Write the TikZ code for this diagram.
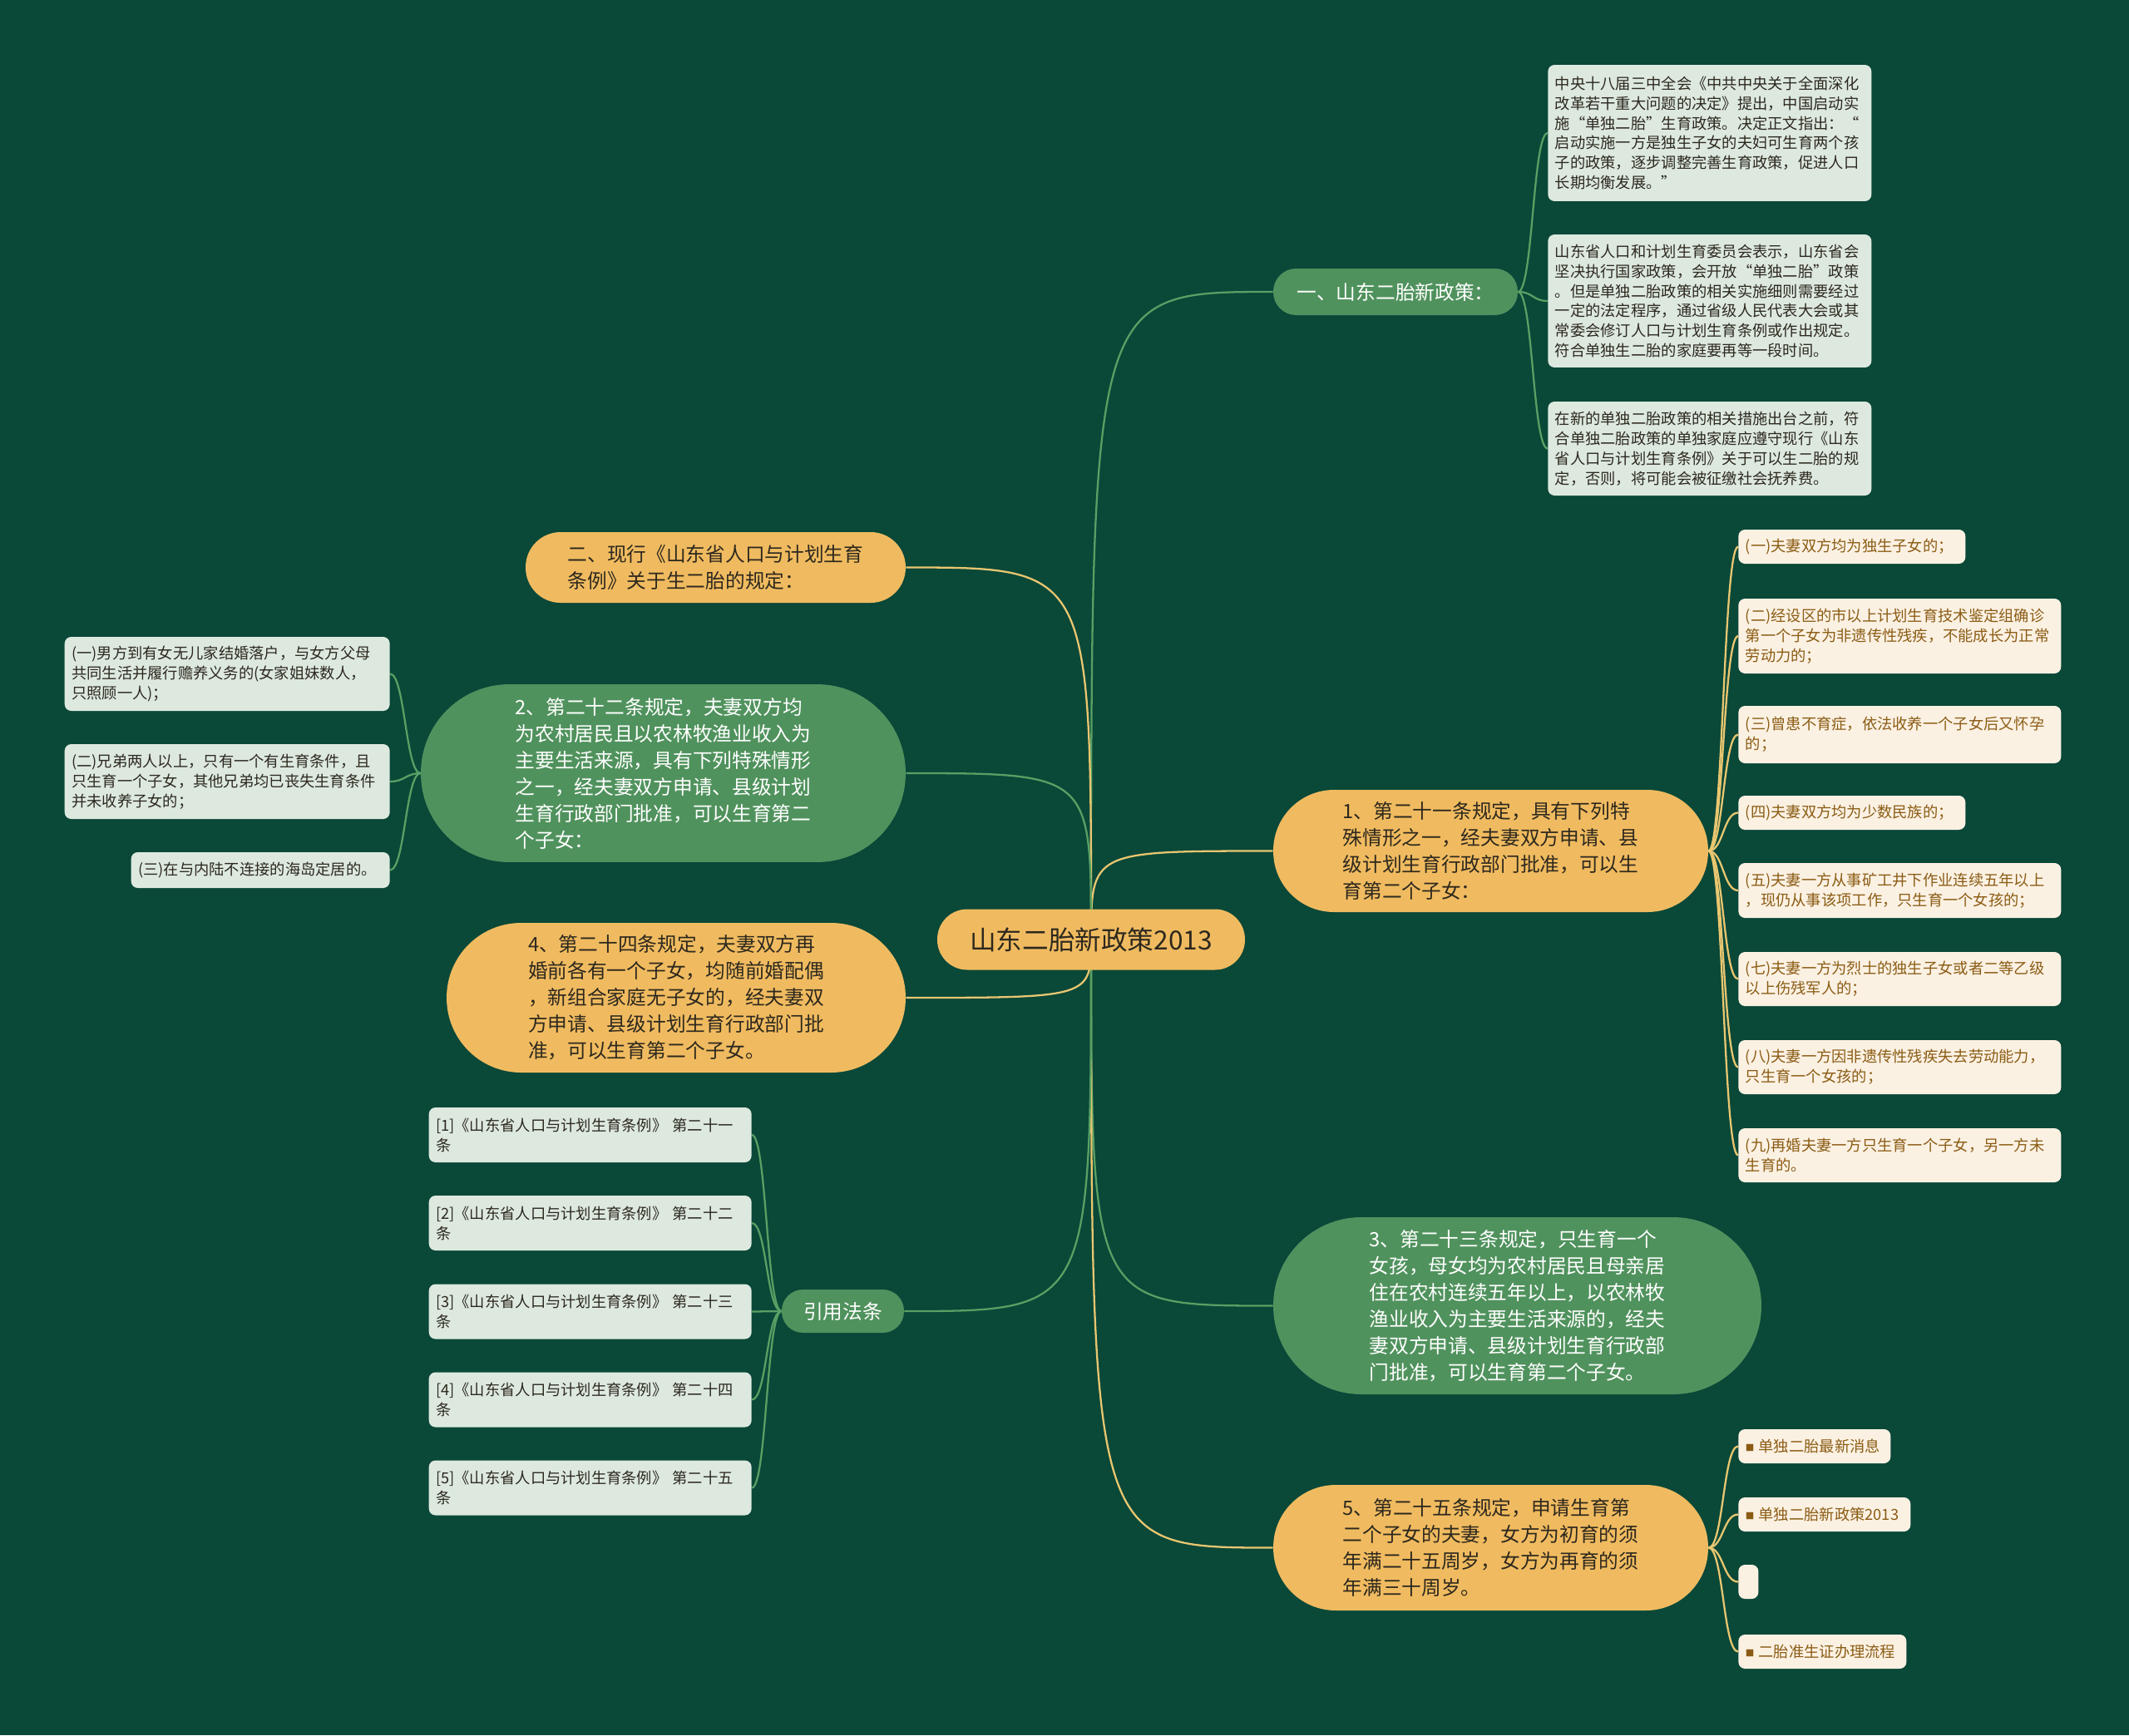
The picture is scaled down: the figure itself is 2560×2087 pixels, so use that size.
\documentclass[tikz,border=0pt]{standalone}
\usepackage{fontspec}
\setmainfont{Noto Sans CJK SC}
\usepackage{tikz}
\usepackage{xcolor}
\usetikzlibrary{backgrounds}
\definecolor{bgdeep}{RGB}{10, 72, 56}
\definecolor{gold}{RGB}{240, 187, 96}
\definecolor{leaf}{RGB}{80, 146, 93}
\definecolor{mint}{RGB}{221, 233, 223}
\definecolor{cream}{RGB}{251, 241, 227}
\definecolor{brown}{RGB}{139, 92, 20}
\definecolor{ink}{RGB}{45, 40, 30}
\definecolor{goldline}{RGB}{232, 198, 112}
\definecolor{leafline}{RGB}{88, 160, 100}
\newcommand{\sqbullet}{\raisebox{0.6pt}{\fontsize{6}{6}\selectfont ■}\hspace{3pt}}
\tikzset{
    pill/.style={rectangle, rounded corners=#1, align=left, inner sep=4pt, font=\fontsize{13.5}{18.2}\selectfont},
    goldpill/.style={pill=#1, fill=gold, text=ink},
    greenpill/.style={pill=#1, fill=leaf, text=white},
    leafbox/.style={rectangle, rounded corners=4.5pt, inner xsep=0.17cm, inner ysep=2pt, align=left, font=\fontsize{10.4}{13.6}\selectfont},
    mintbox/.style={leafbox, fill=mint, text=ink},
    creambox/.style={leafbox, fill=cream, text=brown},
    goldlink/.style={draw=goldline, line width=1.3pt},
    leaflink/.style={draw=leafline, line width=1.3pt}
}
\begin{document}
\begin{tikzpicture}[x=0.02cm, y=-0.02cm]
    \useasboundingbox (0,0) rectangle (2560,2087);
    \begin{scope}[on background layer]
        \fill[bgdeep] (0,0) rectangle (2560,2087);
    \end{scope}
    \node[goldpill=0.72cm, minimum width=7.4cm, minimum height=1.46cm, font=\fontsize{18}{22}\selectfont] (root) at (1312,1130) {山东二胎新政策2013};
    % right side
    \node[greenpill=0.55cm, minimum width=5.88cm, minimum height=1.12cm] (policy) at (1678,351) {一、山东二胎新政策：};
    \node[mintbox, anchor=west, text width=7.44cm, minimum height=3.28cm] (plenum) at (1861,160) {中央十八届三中全会《中共中央关于全面深化\\改革若干重大问题的决定》提出，中国启动实\\施“单独二胎”生育政策。决定正文指出：“\\启动实施一方是独生子女的夫妇可生育两个孩\\子的政策，逐步调整完善生育政策，促进人口\\长期均衡发展。”};
    \node[mintbox, anchor=west, text width=7.44cm, minimum height=3.2cm] (province) at (1861,362) {山东省人口和计划生育委员会表示，山东省会\\坚决执行国家政策，会开放“单独二胎”政策\\。但是单独二胎政策的相关实施细则需要经过\\一定的法定程序，通过省级人民代表大会或其\\常委会修订人口与计划生育条例或作出规定。\\符合单独生二胎的家庭要再等一段时间。};
    \node[mintbox, anchor=west, text width=7.44cm, minimum height=2.26cm] (interim) at (1861,539.5) {在新的单独二胎政策的相关措施出台之前，符\\合单独二胎政策的单独家庭应遵守现行《山东\\省人口与计划生育条例》关于可以生二胎的规\\定，否则，将可能会被征缴社会抚养费。};
    \node[goldpill=1.46cm, minimum width=10.46cm, minimum height=2.94cm] (art21) at (1792.5,1023.5) {1、第二十一条规定，具有下列特\\殊情形之一，经夫妻双方申请、县\\级计划生育行政部门批准，可以生\\育第二个子女：};
    \node[creambox, anchor=west, text width=5.12cm, minimum height=0.82cm] (caseA) at (2090,657.5) {(一)夫妻双方均为独生子女的；};
    \node[creambox, anchor=west, text width=7.42cm, minimum height=1.8cm] (caseB) at (2090,765) {(二)经设区的市以上计划生育技术鉴定组确诊\\第一个子女为非遗传性残疾，不能成长为正常\\劳动力的；};
    \node[creambox, anchor=west, text width=7.42cm, minimum height=1.38cm] (caseC) at (2090,883.5) {(三)曾患不育症，依法收养一个子女后又怀孕\\的；};
    \node[creambox, anchor=west, text width=5.12cm, minimum height=0.82cm] (caseD) at (2090,977.5) {(四)夫妻双方均为少数民族的；};
    \node[creambox, anchor=west, text width=7.42cm, minimum height=1.32cm] (caseE) at (2090,1071) {(五)夫妻一方从事矿工井下作业连续五年以上\\，现仍从事该项工作，只生育一个女孩的；};
    \node[creambox, anchor=west, text width=7.42cm, minimum height=1.3cm] (caseG) at (2090,1177.5) {(七)夫妻一方为烈士的独生子女或者二等乙级\\以上伤残军人的；};
    \node[creambox, anchor=west, text width=7.42cm, minimum height=1.3cm] (caseH) at (2090,1283.5) {(八)夫妻一方因非遗传性残疾失去劳动能力，\\只生育一个女孩的；};
    \node[creambox, anchor=west, text width=7.42cm, minimum height=1.3cm] (caseI) at (2090,1389.5) {(九)再婚夫妻一方只生育一个子女，另一方未\\生育的。};
    \node[greenpill=2.12cm, minimum width=11.74cm, minimum height=4.26cm] (art23) at (1824.5,1570.5) {3、第二十三条规定，只生育一个\\女孩，母女均为农村居民且母亲居\\住在农村连续五年以上，以农林牧\\渔业收入为主要生活来源的，经夫\\妻双方申请、县级计划生育行政部\\门批准，可以生育第二个子女。};
    \node[goldpill=1.5cm, minimum width=10.46cm, minimum height=3.02cm] (art25) at (1792.5,1861.5) {5、第二十五条规定，申请生育第\\二个子女的夫妻，女方为初育的须\\年满二十五周岁，女方为再育的须\\年满三十周岁。};
    \node[creambox, anchor=west, text width=3.32cm, minimum height=0.82cm] (newsA) at (2090,1739.5) {\sqbullet 单独二胎最新消息};
    \node[creambox, anchor=west, text width=3.8cm, minimum height=0.82cm] (newsB) at (2090,1821.5) {\sqbullet 单独二胎新政策2013};
    \node[creambox, anchor=west, text width=0.14cm, minimum height=0.82cm] (newsC) at (2090,1902.5) {};
    \node[creambox, anchor=west, text width=3.7cm, minimum height=0.82cm] (newsD) at (2090,1986.5) {\sqbullet 二胎准生证办理流程};
    % left side
    \node[goldpill=0.84cm, minimum width=9.14cm, minimum height=1.7cm] (current) at (860.5,682.5) {二、现行《山东省人口与计划生育\\条例》关于生二胎的规定：};
    \node[greenpill=2.13cm, minimum width=11.66cm, minimum height=4.28cm] (art22) at (797.5,930) {2、第二十二条规定，夫妻双方均\\为农村居民且以农林牧渔业收入为\\主要生活来源，具有下列特殊情形\\之一，经夫妻双方申请、县级计划\\生育行政部门批准，可以生育第二\\个子女：};
    \node[mintbox, anchor=east, text width=7.48cm, minimum height=1.78cm] (ruralA) at (469,810.5) {(一)男方到有女无儿家结婚落户，与女方父母\\共同生活并履行赡养义务的(女家姐妹数人，\\只照顾一人)；};
    \node[mintbox, anchor=east, text width=7.48cm, minimum height=1.8cm] (ruralB) at (469,940) {(二)兄弟两人以上，只有一个有生育条件，且\\只生育一个子女，其他兄弟均已丧失生育条件\\并未收养子女的；};
    \node[mintbox, anchor=east, text width=5.88cm, minimum height=0.86cm] (ruralC) at (469,1046.5) {(三)在与内陆不连接的海岛定居的。};
    \node[goldpill=1.79cm, minimum width=11.04cm, minimum height=3.6cm] (art24) at (813,1200) {4、第二十四条规定，夫妻双方再\\婚前各有一个子女，均随前婚配偶\\，新组合家庭无子女的，经夫妻双\\方申请、县级计划生育行政部门批\\准，可以生育第二个子女。};
    \node[greenpill=0.51cm, minimum width=2.94cm, minimum height=1.04cm] (cite) at (1013.5,1577) {引用法条};
    \node[mintbox, anchor=east, text width=7.42cm, minimum height=1.32cm] (refA) at (904,1365) {[1]《山东省人口与计划生育条例》 第二十一\\条};
    \node[mintbox, anchor=east, text width=7.42cm, minimum height=1.32cm] (refB) at (904,1471) {[2]《山东省人口与计划生育条例》 第二十二\\条};
    \node[mintbox, anchor=east, text width=7.42cm, minimum height=1.32cm] (refC) at (904,1577.5) {[3]《山东省人口与计划生育条例》 第二十三\\条};
    \node[mintbox, anchor=east, text width=7.42cm, minimum height=1.32cm] (refD) at (904,1683.5) {[4]《山东省人口与计划生育条例》 第二十四\\条};
    \node[mintbox, anchor=east, text width=7.42cm, minimum height=1.32cm] (refE) at (904,1789.5) {[5]《山东省人口与计划生育条例》 第二十五\\条};
    \begin{scope}[on background layer]
        \draw[leaflink] (root.center) .. controls (root |- policy.west) .. (policy.west);
        \draw[goldlink] (root.center) .. controls (root |- art21.west) .. (art21.west);
        \draw[leaflink] (root.center) .. controls (root |- art23.west) .. (art23.west);
        \draw[goldlink] (root.center) .. controls (root |- art25.west) .. (art25.west);
        \draw[goldlink] (root.center) .. controls (root |- current.east) .. (current.east);
        \draw[leaflink] (root.center) .. controls (root |- art22.east) .. (art22.east);
        \draw[goldlink] (root.center) .. controls (root |- art24.east) .. (art24.east);
        \draw[leaflink] (root.center) .. controls (root |- cite.east) .. (cite.east);
        \draw[leaflink] (policy.east) .. controls +(18,0) and +(-18,0) .. (plenum.west); \draw[leaflink] (policy.east) .. controls +(18,0) and +(-18,0) .. (province.west); \draw[leaflink] (policy.east) .. controls +(18,0) and +(-18,0) .. (interim.west);
        \draw[goldlink] (art21.east) .. controls +(18,0) and +(-18,0) .. (caseA.west); \draw[goldlink] (art21.east) .. controls +(18,0) and +(-18,0) .. (caseB.west); \draw[goldlink] (art21.east) .. controls +(18,0) and +(-18,0) .. (caseC.west); \draw[goldlink] (art21.east) .. controls +(18,0) and +(-18,0) .. (caseD.west);
        \draw[goldlink] (art21.east) .. controls +(18,0) and +(-18,0) .. (caseE.west); \draw[goldlink] (art21.east) .. controls +(18,0) and +(-18,0) .. (caseG.west); \draw[goldlink] (art21.east) .. controls +(18,0) and +(-18,0) .. (caseH.west); \draw[goldlink] (art21.east) .. controls +(18,0) and +(-18,0) .. (caseI.west);
        \draw[goldlink] (art25.east) .. controls +(18,0) and +(-18,0) .. (newsA.west); \draw[goldlink] (art25.east) .. controls +(18,0) and +(-18,0) .. (newsB.west); \draw[goldlink] (art25.east) .. controls +(18,0) and +(-18,0) .. (newsC.west); \draw[goldlink] (art25.east) .. controls +(18,0) and +(-18,0) .. (newsD.west);
        \draw[leaflink] (art22.west) .. controls +(-18,0) and +(18,0) .. (ruralA.east); \draw[leaflink] (art22.west) .. controls +(-18,0) and +(18,0) .. (ruralB.east); \draw[leaflink] (art22.west) .. controls +(-18,0) and +(18,0) .. (ruralC.east);
        \draw[leaflink] (cite.west) .. controls +(-18,0) and +(18,0) .. (refA.east); \draw[leaflink] (cite.west) .. controls +(-18,0) and +(18,0) .. (refB.east); \draw[leaflink] (cite.west) .. controls +(-18,0) and +(18,0) .. (refC.east);
        \draw[leaflink] (cite.west) .. controls +(-18,0) and +(18,0) .. (refD.east); \draw[leaflink] (cite.west) .. controls +(-18,0) and +(18,0) .. (refE.east);
    \end{scope}
\end{tikzpicture}
\end{document}
